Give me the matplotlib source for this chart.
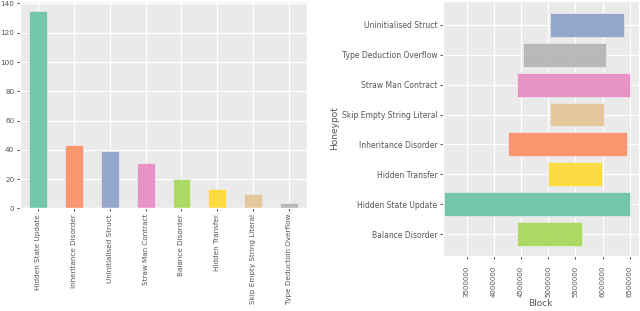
import matplotlib.pyplot as plt

plt.style.use('ggplot')

# counts per honeypot type
honeypots = ['Hidden State Update', 'Inheritance Disorder', 'Uninitialised Struct',
             'Straw Man Contract', 'Balance Disorder', 'Hidden Transfer',
             'Skip Empty String Literal', 'Type Deduction Overflow']
counts = [135, 43, 39, 31, 20, 13, 10, 4]
bar_colors = ['#66c2a5', '#fc8d62', '#8da0cb', '#e78ac3', '#a6d854', '#ffd92f',
              '#e5c494', '#b3b3b3']

# block ranges, listed bottom to top
range_names = ['Balance Disorder', 'Hidden State Update', 'Hidden Transfer',
               'Inheritance Disorder', 'Skip Empty String Literal', 'Straw Man Contract',
               'Type Deduction Overflow', 'Uninitialised Struct']
block_start = [4432000, 3080000, 5005000, 4260000, 5030000, 4432000, 4530000, 5030000]
block_end = [5620000, 6496000, 5982000, 6441000, 6024000, 6496000, 6055000, 6390000]
range_colors = ['#a6d854', '#66c2a5', '#ffd92f', '#fc8d62', '#e5c494', '#e78ac3',
                '#b3b3b3', '#8da0cb']

fig = plt.figure(figsize=(6.4, 3.11), dpi=100)

ax1 = fig.add_axes([0.031, 0.330, 0.449, 0.667])
ax1.set_facecolor('#EAEAEA')
x = list(range(len(honeypots)))
ax1.bar(x, counts, width=0.5, color=bar_colors, alpha=0.9, edgecolor='#EEEEEE', linewidth=0.5)
ax1.set_xlim(-0.5, len(honeypots) - 0.5)
ax1.set_xticks(x)
ax1.set_xticklabels(honeypots, rotation=90, fontsize=5.2)
ax1.set_yticks(range(0, 141, 20))
ax1.tick_params(axis='both', labelsize=5.2, length=2, pad=2)

ax2 = fig.add_axes([0.692, 0.177, 0.306, 0.821])
ax2.set_facecolor('#EAEAEA')
widths = [e - s for s, e in zip(block_start, block_end)]
ax2.barh(range(len(range_names)), widths, left=block_start, height=0.8,
         color=range_colors, alpha=0.9, edgecolor='#EEEEEE', linewidth=0.5)
ax2.set_yticks(range(len(range_names)))
ax2.set_yticklabels(range_names, fontsize=5.5)
ax2.set_xlim(3065000, 6665000)
ax2.set_ylim(-0.72, 7.8)
ax2.set_xticks(range(3500000, 6500001, 500000))
ax2.set_xticklabels([str(v) for v in range(3500000, 6500001, 500000)], rotation=90, fontsize=5)
ax2.tick_params(axis='both', length=2, pad=2)
ax2.tick_params(axis='x', pad=5)
ax2.set_xlabel('Block', fontsize=6.5, labelpad=1)
ax2.set_ylabel('Honeypot', fontsize=6.5, labelpad=2)

plt.savefig('out.png', dpi=100)
